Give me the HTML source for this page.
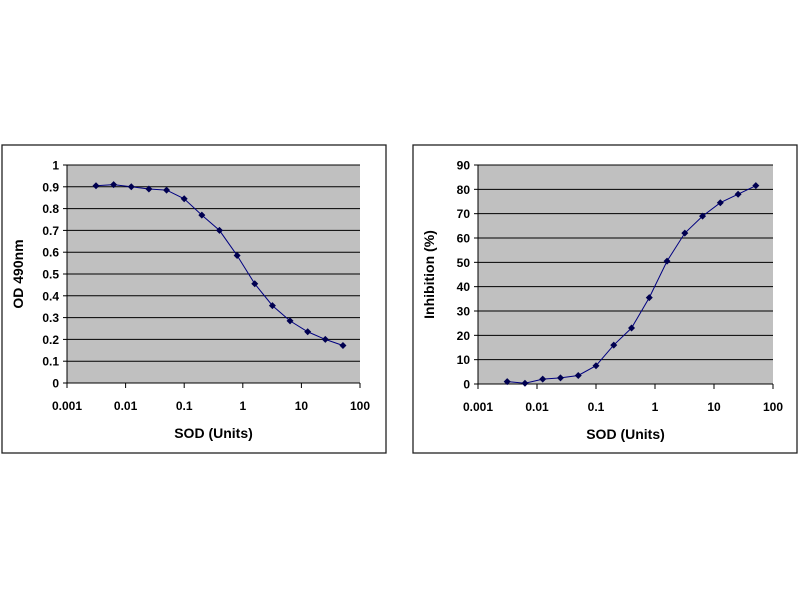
<!DOCTYPE html>
<html><head><meta charset="utf-8"><style>
html,body{margin:0;padding:0;background:#fff;width:800px;height:600px;overflow:hidden}
svg{display:block}
text{font-family:"Liberation Sans",Arial,sans-serif;font-weight:bold;fill:#000}
</style></head><body>
<svg id="s" width="800" height="600" xmlns="http://www.w3.org/2000/svg"></svg>
<script>
const s=document.getElementById('s');let h='';
const xs=[0.003125,0.00625,0.0125,0.025,0.05,0.1,0.2,0.4,0.8,1.6,3.2,6.4,12.8,25.6,51.2];
function fmt(v){return String(Math.round(v*10)/10);}
function chart(bx,bw,px,pw,py,ph,ymax,ystep,label,vals){
 h+=`<rect x="${bx}" y="145" width="${bw}" height="308" fill="#fff" stroke="#222" stroke-width="1.3"/>`;
 h+=`<rect x="${px}" y="${py}" width="${pw}" height="${ph}" fill="#c0c0c0"/>`;
 const n=Math.round(ymax/ystep);
 for(let i=0;i<=n;i++){const y=py+ph-ph*i/n;
  if(i>0)h+=`<line x1="${px}" x2="${px+pw}" y1="${y}" y2="${y}" stroke="#000" stroke-width="1"/>`;
  h+=`<line x1="${px-4}" x2="${px}" y1="${y}" y2="${y}" stroke="#000"/>`;
  h+=`<text x="${px-8}" y="${y+4.5}" font-size="12" text-anchor="end">${fmt(i*ystep)}</text>`;}
 h+=`<line x1="${px}" x2="${px}" y1="${py}" y2="${py+ph}" stroke="#000"/>`;
 h+=`<line x1="${px}" x2="${px+pw}" y1="${py+ph}" y2="${py+ph}" stroke="#000"/>`;
 const labs=['0.001','0.01','0.1','1','10','100'];
 for(let i=0;i<6;i++){const x=px+pw*i/5;
  h+=`<line x1="${x}" x2="${x}" y1="${py+ph}" y2="${py+ph+5}" stroke="#000"/>`;
  h+=`<text x="${x}" y="${py+ph+27}" font-size="12" text-anchor="middle">${labs[i]}</text>`;}
 h+=`<text x="${px+pw/2}" y="${py+ph+55}" font-size="14" text-anchor="middle">SOD (Units)</text>`;
 h+=`<text transform="translate(${px-44},${py+ph/2}) rotate(-90)" font-size="14" text-anchor="middle">${label}</text>`;
 const pts=xs.map((x,i)=>[px+pw*(Math.log10(x)+3)/5, py+ph-ph*vals[i]/ymax]);
 h+=`<polyline points="${pts.map(p=>p.join(',')).join(' ')}" fill="none" stroke="#000080" stroke-width="1"/>`;
 pts.forEach(p=>h+=`<path d="M${p[0]-3.5},${p[1]} L${p[0]},${p[1]-3.5} L${p[0]+3.5},${p[1]} L${p[0]},${p[1]+3.5}Z" fill="#000050"/>`);
}
chart(2,384,67,293,165,218,1,0.1,'OD 490nm',[.905,.91,.9,.89,.885,.845,.77,.70,.585,.455,.355,.285,.235,.20,.172]);
chart(413,384,478,295,165,219,90,10,'Inhibition (%)',[1,0.3,2,2.5,3.5,7.5,16,23,35.5,50.5,62,69,74.5,78,81.5]);
s.innerHTML=h;
</script>
</body></html>
